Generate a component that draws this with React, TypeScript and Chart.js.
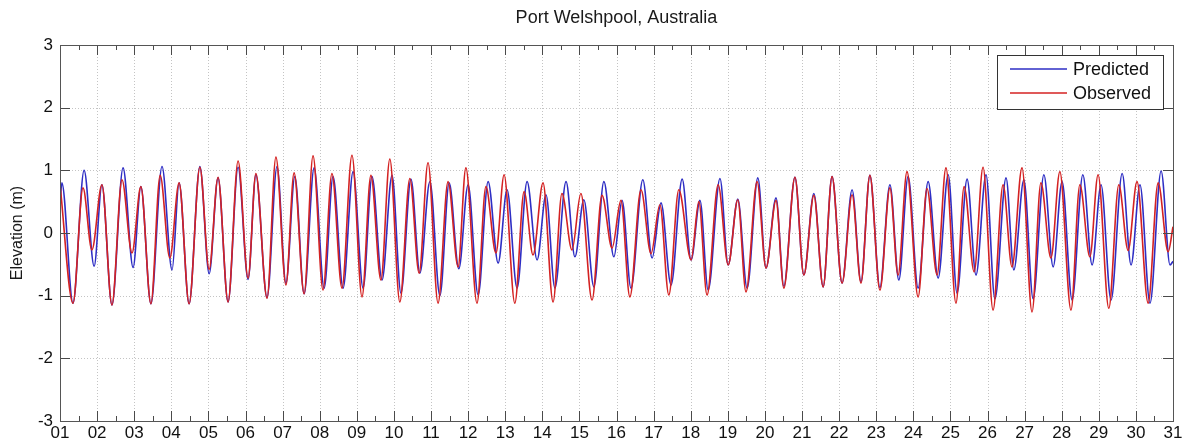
import React, { useEffect, useRef } from "react";
import { Chart, registerables } from "chart.js";

Chart.register(...registerables);

const TITLE = "Port Welshpool, Australia";
const Y_LABEL = "Elevation (m)";
const SERIES_NAMES = ["Predicted", "Observed"];

const dayTickLabels = [
  "01", "02", "03", "04", "05", "06", "07", "08", "09", "10",
  "11", "12", "13", "14", "15", "16", "17", "18", "19", "20",
  "21", "22", "23", "24", "25", "26", "27", "28", "29", "30", "31",
];
const yTickValues = [-3, -2, -1, 0, 1, 2, 3];

// Predicted: times (day of month) of each high / low water and its elevation (m)
const predictedTimes = [
  1.0, 1.05, 1.35, 1.65, 1.92, 2.13, 2.4, 2.7, 2.97, 3.18,
  3.45, 3.75, 4.02, 4.21, 4.48, 4.77, 5.02, 5.26, 5.53, 5.8,
  6.07, 6.28, 6.58, 6.85, 7.09, 7.33, 7.58, 7.85, 8.12, 8.36,
  8.63, 8.9, 9.17, 9.41, 9.68, 9.95, 10.19, 10.46, 10.7, 10.97,
  11.24, 11.49, 11.75, 12.0, 12.27, 12.54, 12.81, 13.05, 13.32, 13.59,
  13.86, 14.1, 14.34, 14.64, 14.88, 15.12, 15.39, 15.66, 15.93, 16.15,
  16.39, 16.71, 16.96, 17.2, 17.47, 17.77, 18.01, 18.25, 18.47, 18.79,
  19.01, 19.27, 19.52, 19.81, 20.03, 20.3, 20.51, 20.81, 21.05, 21.32,
  21.57, 21.81, 22.08, 22.35, 22.59, 22.83, 23.1, 23.37, 23.61, 23.86,
  24.13, 24.4, 24.67, 24.94, 25.18, 25.45, 25.69, 25.96, 26.2, 26.5,
  26.71, 26.98, 27.23, 27.52, 27.77, 28.01, 28.28, 28.57, 28.82, 29.06,
  29.33, 29.63, 29.87, 30.11, 30.38, 30.68, 30.92, 31.0,
];
const predictedValues = [
  0.45, 0.8, -1.12, 1.0, -0.53, 0.77, -1.15, 1.04, -0.55, 0.74,
  -1.13, 1.06, -0.59, 0.8, -1.13, 1.06, -0.65, 0.88, -1.1, 1.05,
  -0.74, 0.93, -1.03, 1.06, -0.8, 0.9, -0.97, 1.04, -0.88, 0.9,
  -0.88, 0.98, -0.88, 0.9, -0.75, 0.92, -0.96, 0.86, -0.64, 0.82,
  -1.0, 0.8, -0.57, 0.77, -0.99, 0.82, -0.48, 0.69, -0.88, 0.82,
  -0.43, 0.61, -0.88, 0.82, -0.38, 0.53, -0.86, 0.82, -0.38, 0.52,
  -0.88, 0.85, -0.4, 0.48, -0.83, 0.86, -0.43, 0.52, -0.91, 0.87,
  -0.51, 0.54, -0.88, 0.88, -0.56, 0.56, -0.85, 0.89, -0.67, 0.63,
  -0.86, 0.9, -0.8, 0.69, -0.78, 0.92, -0.87, 0.77, -0.75, 0.9,
  -0.88, 0.82, -0.72, 0.93, -0.96, 0.86, -0.67, 0.93, -1.05, 0.88,
  -0.59, 0.85, -1.05, 0.93, -0.54, 0.82, -1.07, 0.93, -0.51, 0.77,
  -1.07, 0.95, -0.51, 0.77, -1.12, 0.99, -0.51, -0.45,
];

// Observed: times (day of month) of each high / low water and its elevation (m)
const observedTimes = [
  1.0, 1.35, 1.62, 1.86, 2.13, 2.4, 2.67, 2.94, 3.18, 3.45,
  3.7, 3.96, 4.21, 4.48, 4.77, 5.02, 5.26, 5.53, 5.8, 6.07,
  6.28, 6.58, 6.82, 7.09, 7.31, 7.58, 7.82, 8.09, 8.33, 8.6,
  8.87, 9.14, 9.38, 9.65, 9.89, 10.16, 10.43, 10.68, 10.92, 11.19,
  11.46, 11.73, 11.94, 12.24, 12.48, 12.75, 12.97, 13.26, 13.51, 13.75,
  14.02, 14.29, 14.53, 14.8, 15.04, 15.34, 15.61, 15.88, 16.12, 16.36,
  16.66, 16.93, 17.17, 17.41, 17.68, 18.01, 18.22, 18.44, 18.74, 19.01,
  19.27, 19.49, 19.79, 20.03, 20.3, 20.51, 20.81, 21.05, 21.32, 21.57,
  21.81, 22.08, 22.35, 22.59, 22.83, 23.1, 23.37, 23.59, 23.83, 24.13,
  24.37, 24.64, 24.88, 25.15, 25.37, 25.64, 25.88, 26.15, 26.42, 26.66,
  26.93, 27.2, 27.44, 27.71, 27.95, 28.25, 28.49, 28.76, 28.98, 29.27,
  29.54, 29.79, 30.03, 30.33, 30.6, 30.87, 31.0,
];
const observedValues = [
  0.78, -1.12, 0.72, -0.27, 0.77, -1.15, 0.85, -0.32, 0.74, -1.13,
  0.92, -0.4, 0.8, -1.13, 1.05, -0.58, 0.89, -1.1, 1.15, -0.72,
  0.95, -1.04, 1.21, -0.83, 0.96, -0.97, 1.23, -0.91, 0.95, -0.88,
  1.24, -1.02, 0.92, -0.75, 1.18, -1.1, 0.87, -0.64, 1.12, -1.12,
  0.82, -0.54, 1.04, -1.12, 0.74, -0.32, 0.93, -1.12, 0.66, -0.35,
  0.8, -1.1, 0.63, -0.27, 0.63, -1.07, 0.6, -0.24, 0.52, -1.02,
  0.69, -0.33, 0.45, -0.99, 0.69, -0.43, 0.5, -0.99, 0.77, -0.51,
  0.53, -0.94, 0.82, -0.56, 0.52, -0.88, 0.89, -0.67, 0.6, -0.86,
  0.9, -0.8, 0.61, -0.8, 0.92, -0.91, 0.72, -0.67, 0.98, -1.02,
  0.71, -0.67, 1.04, -1.12, 0.74, -0.62, 1.05, -1.23, 0.77, -0.54,
  1.04, -1.26, 0.8, -0.4, 0.98, -1.23, 0.77, -0.38, 0.93, -1.2,
  0.77, -0.28, 0.82, -1.12, 0.8, -0.3, 0.1,
];

const BLUE = "#2e2ec4";
const RED = "#d42222";
const FONT = "'Liberation Sans', Arial, Helvetica, sans-serif";

const decorPlugin = {
  id: "decor",
  beforeDatasetsDraw(chart: any) {
    const { ctx, chartArea: a, scales } = chart;
    const x = scales.x;
    const y = scales.y;
    ctx.save();
    ctx.strokeStyle = "#c4c4c4";
    ctx.lineWidth = 1;
    ctx.setLineDash([1, 2]);
    for (let i = 1; i < dayTickLabels.length - 1; i++) {
      const px = Math.round(x.getPixelForValue(i + 1)) + 0.5;
      ctx.beginPath();
      ctx.moveTo(px, a.top);
      ctx.lineTo(px, a.bottom);
      ctx.stroke();
    }
    for (let i = 1; i < yTickValues.length - 1; i++) {
      const py = Math.round(y.getPixelForValue(yTickValues[i])) + 0.5;
      ctx.beginPath();
      ctx.moveTo(a.left, py);
      ctx.lineTo(a.right, py);
      ctx.stroke();
    }
    ctx.restore();
  },
  afterDatasetsDraw(chart: any) {
    const { ctx, chartArea: a, scales } = chart;
    const x = scales.x;
    const y = scales.y;
    ctx.save();
    ctx.setLineDash([]);
    ctx.strokeStyle = "#4a4a4a";
    ctx.lineWidth = 1;
    // tick marks
    ctx.beginPath();
    for (let i = 0; i < dayTickLabels.length; i++) {
      const px = Math.round(x.getPixelForValue(i + 1)) + 0.5;
      ctx.moveTo(px, a.bottom);
      ctx.lineTo(px, a.bottom - 10);
      ctx.moveTo(px, a.top);
      ctx.lineTo(px, a.top + 10);
      if (i < dayTickLabels.length - 1) {
        const pm = Math.round(x.getPixelForValue(i + 1.5)) + 0.5;
        ctx.moveTo(pm, a.bottom);
        ctx.lineTo(pm, a.bottom - 5);
        ctx.moveTo(pm, a.top);
        ctx.lineTo(pm, a.top + 5);
      }
    }
    for (let i = 0; i < yTickValues.length; i++) {
      const py = Math.round(y.getPixelForValue(yTickValues[i])) + 0.5;
      ctx.moveTo(a.left, py);
      ctx.lineTo(a.left + 10, py);
      ctx.moveTo(a.right, py);
      ctx.lineTo(a.right - 10, py);
    }
    ctx.stroke();
    // box
    ctx.strokeStyle = "#555555";
    ctx.strokeRect(Math.round(a.left) + 0.5, Math.round(a.top) + 0.5, Math.round(a.right - a.left), Math.round(a.bottom - a.top));

    // legend
    const lx = 997, ly = 55, lw = 166, lh = 54;
    ctx.fillStyle = "#ffffff";
    ctx.fillRect(lx, ly, lw, lh);
    ctx.strokeStyle = "#333333";
    ctx.lineWidth = 1;
    ctx.strokeRect(lx + 0.5, ly + 0.5, lw, lh);
    const colors = [BLUE, RED];
    const rows = [69, 93];
    ctx.font = `18px ${FONT}`;
    ctx.textBaseline = "middle";
    ctx.textAlign = "left";
    for (let i = 0; i < SERIES_NAMES.length; i++) {
      ctx.strokeStyle = colors[i];
      ctx.lineWidth = 1.5;
      ctx.beginPath();
      ctx.moveTo(lx + 13, rows[i]);
      ctx.lineTo(lx + 70, rows[i]);
      ctx.stroke();
      ctx.fillStyle = "#111111";
      ctx.fillText(SERIES_NAMES[i], lx + 76, rows[i] + 1);
    }

    // title
    ctx.fillStyle = "#1a1a1a";
    ctx.font = `18px ${FONT}`;
    ctx.textAlign = "center";
    ctx.textBaseline = "middle";
    ctx.fillText(TITLE, (a.left + a.right) / 2, 18);

    // y label
    ctx.save();
    ctx.translate(18, (a.top + a.bottom) / 2);
    ctx.rotate(-Math.PI / 2);
    ctx.font = `16px ${FONT}`;
    ctx.fillText(Y_LABEL, 0, 0);
    ctx.restore();
    ctx.restore();
  },
};

export default function App() {
  const ref = useRef<HTMLCanvasElement | null>(null);

  useEffect(() => {
    document.body.style.margin = "0";
    const canvas = ref.current;
    if (!canvas) return;
    const predicted = predictedTimes.map((t, i) => ({ x: t, y: predictedValues[i] }));
    const observed = observedTimes.map((t, i) => ({ x: t, y: observedValues[i] }));
    const chart = new Chart(canvas, {
      type: "line",
      data: {
        datasets: [
          {
            label: SERIES_NAMES[1],
            data: observed,
            borderColor: RED,
            borderWidth: 1.6,
            pointRadius: 0,
            cubicInterpolationMode: "monotone",
            fill: false,
          },
          {
            label: SERIES_NAMES[0],
            data: predicted,
            borderColor: BLUE,
            borderWidth: 1.6,
            pointRadius: 0,
            cubicInterpolationMode: "monotone",
            fill: false,
          },
        ],
      },
      options: {
        animation: false,
        responsive: false,
        maintainAspectRatio: false,
        devicePixelRatio: 1,
        layout: { padding: { top: 45, right: 15, left: 0, bottom: 0 } },
        plugins: {
          legend: { display: false },
          title: { display: false },
          tooltip: { enabled: false },
        },
        scales: {
          x: {
            type: "linear",
            min: 1,
            max: 31,
            grid: { display: false, drawTicks: false },
            border: { display: false },
            afterBuildTicks: (scale: any) => {
              scale.ticks = dayTickLabels.map((_, i) => ({ value: i + 1 }));
            },
            afterFit: (scale: any) => {
              scale.height = 27;
            },
            ticks: {
              autoSkip: false,
              maxRotation: 0,
              padding: 2,
              color: "#111111",
              font: { family: FONT, size: 17 },
              callback: (v: any) => dayTickLabels[Math.round(v) - 1],
            },
          },
          y: {
            min: -3,
            max: 3,
            grid: { display: false, drawTicks: false },
            border: { display: false },
            afterBuildTicks: (scale: any) => {
              scale.ticks = yTickValues.map((v) => ({ value: v }));
            },
            afterFit: (scale: any) => {
              scale.width = 60;
            },
            ticks: {
              padding: 7,
              color: "#111111",
              font: { family: FONT, size: 17 },
              callback: (v: any) => String(v),
            },
          },
        },
      },
      plugins: [decorPlugin],
    });
    return () => chart.destroy();
  }, []);

  return (
    <div style={{ width: 1188, height: 448, background: "#ffffff" }}>
      <canvas ref={ref} width={1188} height={448} style={{ display: "block", width: 1188, height: 448 }} />
    </div>
  );
}
